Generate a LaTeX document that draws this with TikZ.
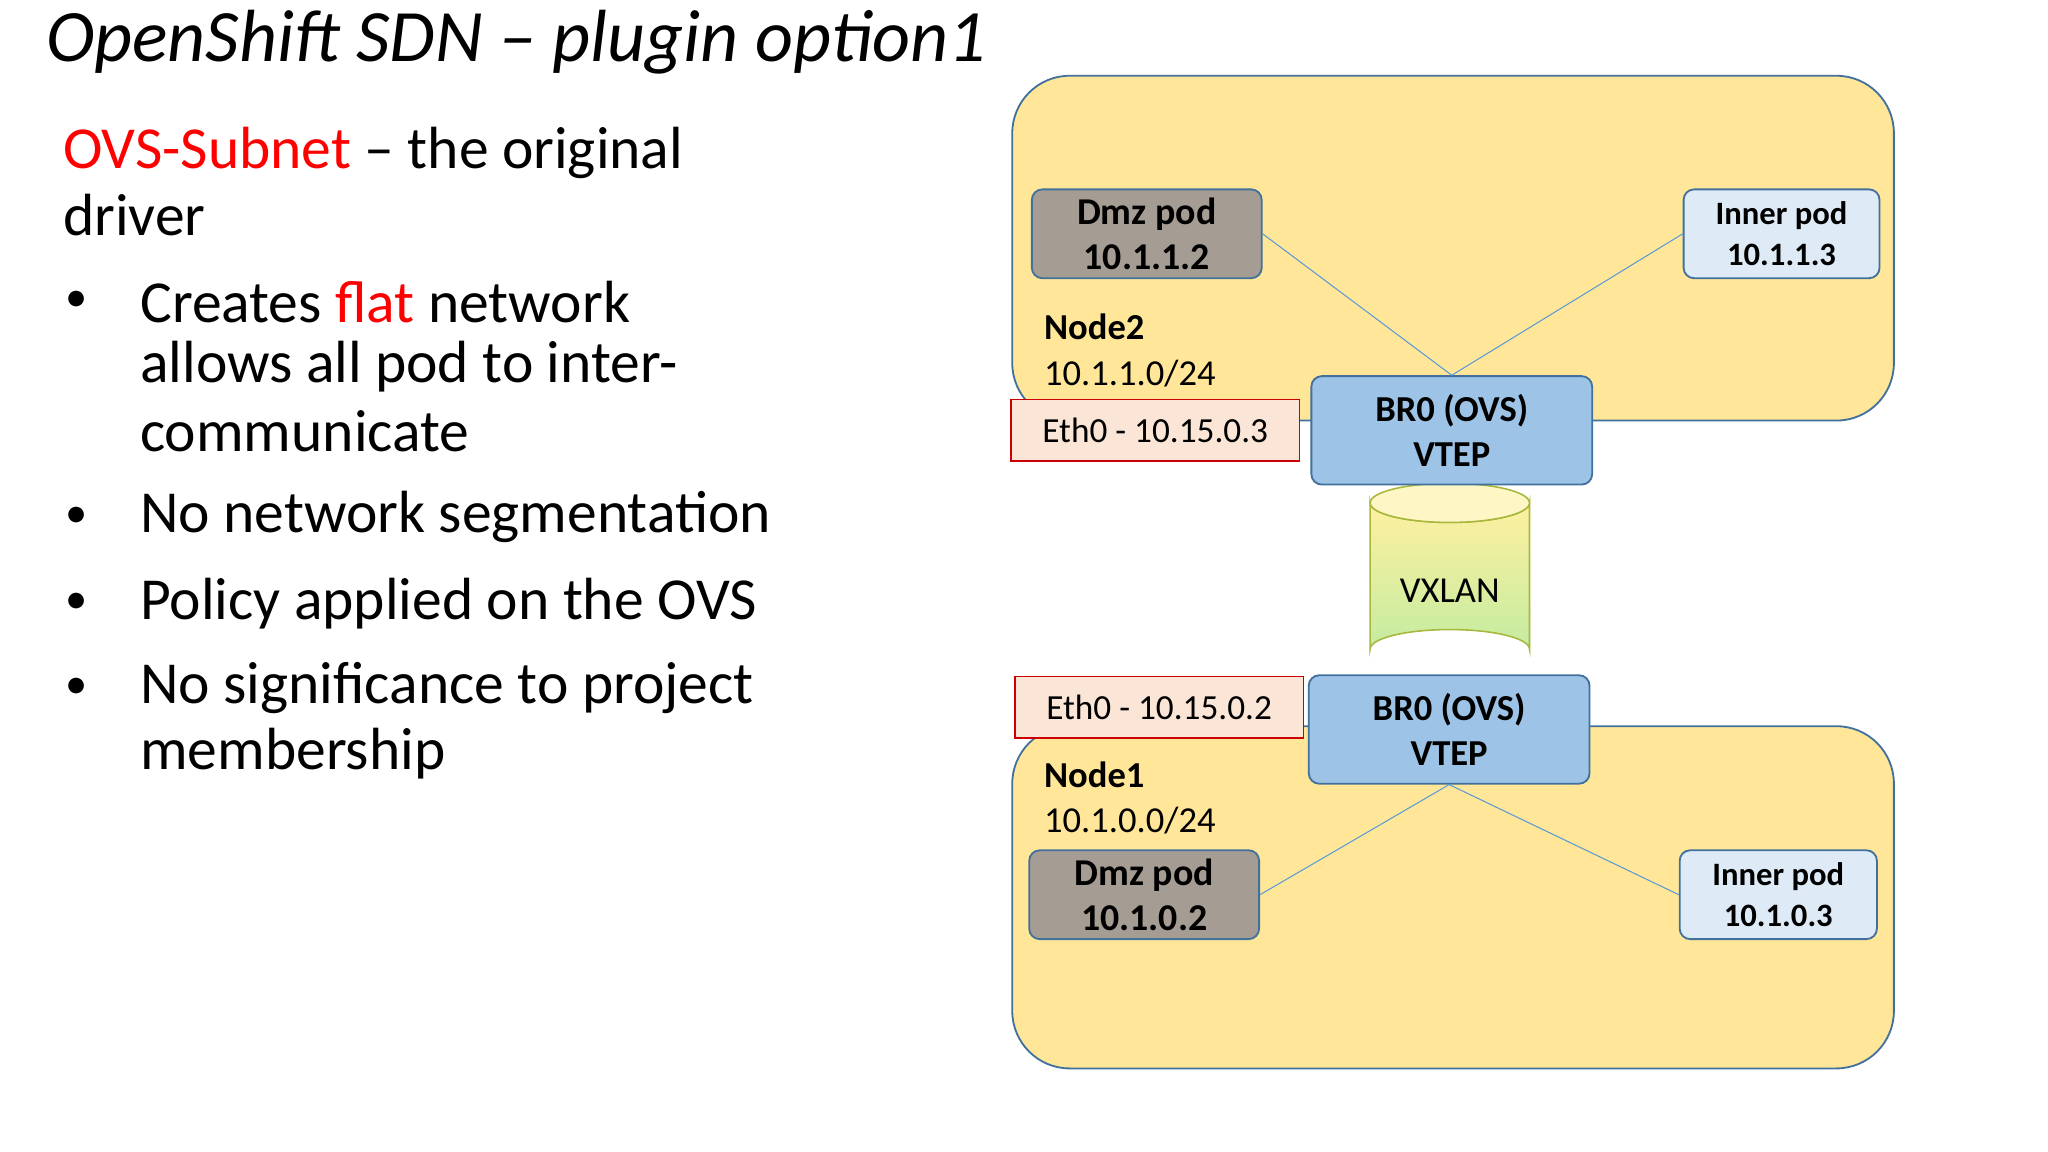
\documentclass[tikz,border=0pt]{standalone}
\usepackage{fontspec}
\setmainfont{Carlito}
\usetikzlibrary{shapes.geometric}
\definecolor{nodefill}{HTML}{FFE699}
\definecolor{bord}{HTML}{41719C}
\definecolor{dmz}{HTML}{A59C94}
\definecolor{inner}{HTML}{DEEBF7}
\definecolor{br}{HTML}{9DC3E6}
\definecolor{eth}{HTML}{FBE5D6}
\definecolor{link}{HTML}{5B9BD5}
\definecolor{cyltop}{HTML}{FFF0A0}
\definecolor{cylbot}{HTML}{C4ECA0}
\definecolor{cylbord}{HTML}{A8B83C}
\begin{document}
\begin{tikzpicture}[x=0.5pt,y=-0.5pt,
  host/.style={draw=bord,fill=nodefill,line width=0.7pt,rounded corners=22pt},
  pod/.style={draw=bord,line width=0.7pt,rounded corners=4pt,align=center,font=\bfseries,inner sep=0pt},
  dmzs/.style={pod,fill=dmz,font=\fontsize{14.5}{17.5}\selectfont\bfseries},
  inners/.style={pod,fill=inner,font=\fontsize{12.5}{15.5}\selectfont\bfseries},
  brs/.style={pod,fill=br,font=\fontsize{14}{17.5}\selectfont\bfseries},
  eths/.style={draw=red!80!black,fill=eth,line width=0.6pt,font=\fontsize{13.5}{16}\selectfont,inner sep=0pt},
  lnk/.style={draw=link,line width=0.4pt},
  body/.style={font=\fontsize{22.8}{26}\selectfont,anchor=west,inner sep=0pt}]
\useasboundingbox[fill=white] (0,0) rectangle (1568,882);
% title
\node[anchor=west,inner sep=0pt,font=\fontsize{28.3}{34}\selectfont\itshape] (title) at (35,32) {OpenShift SDN – plugin option1};
% left text
\node[body] (t1) at (48,117) {\textcolor{red}{OVS-Subnet} – the original};
\node[body] (t2) at (48,165) {driver};
\foreach \y/\n in {231/b1,396/b2,462/b3,527/b4}{\node[body,font=\fontsize{17}{20}\selectfont] (\n) at (50,\y) {•};}
\node[body] (l1) at (107,231) {Creates \textcolor{red}{flat} network};
\node[body] (l2) at (107,281) {allows all pod to inter-};
\node[body] (l3) at (107,330) {communicate};
\node[body] (l4) at (107,396) {No network segmentation};
\node[body] (l5) at (107,462) {Policy applied on the OVS};
\node[body] (l6) at (107,527) {No significance to project};
\node[body] (l7) at (107,577) {membership};
% hosts
\draw[host] (775,58) rectangle (1450,322);
\draw[host] (775,556) rectangle (1450,818);
% node2
\node[dmzs,minimum width=88pt,minimum height=34pt] (dmz2) at (878,179) {Dmz pod\\10.1.1.2};
\node[inners,minimum width=75pt,minimum height=34pt] (in2) at (1364,179) {Inner pod\\10.1.1.3};
\node[anchor=west,inner sep=0pt,font=\fontsize{14}{16}\selectfont\bfseries] (n2) at (799,250) {Node2};
\node[anchor=west,inner sep=0pt,font=\fontsize{14}{16}\selectfont] (n2a) at (799,286) {10.1.1.0/24};
\node[eths,minimum width=110.5pt,minimum height=23.5pt] (eth2) at (884.5,329.5) {Eth0 - 10.15.0.3};
% cylinder
\shade[top color=cyltop,bottom color=cylbot,draw=cylbord,line width=0.6pt]
  (1049,385) -- (1049,497) arc[start angle=180,end angle=360,x radius=61,y radius=15] -- (1171,385) arc[start angle=0,end angle=180,x radius=61,y radius=15] -- cycle;
\draw[fill=cyltop!60!white,draw=cylbord,line width=0.6pt] (1110,385) ellipse[x radius=61,y radius=15];
\node[font=\fontsize{14}{16}\selectfont] (vx) at (1110,452) {VXLAN};
\node[brs,minimum width=107.5pt,minimum height=41.5pt] (br2) at (1111.5,329.5) {BR0 (OVS)\\VTEP};
% node1
\node[eths,minimum width=110.5pt,minimum height=23.5pt] (eth1) at (887.5,541.5) {Eth0 - 10.15.0.2};
\node[brs,minimum width=107.5pt,minimum height=41.5pt] (br1) at (1109.5,558.5) {BR0 (OVS)\\VTEP};
\node[anchor=west,inner sep=0pt,font=\fontsize{14}{16}\selectfont\bfseries] (n1) at (799,593) {Node1};
\node[anchor=west,inner sep=0pt,font=\fontsize{14}{16}\selectfont] (n1a) at (799,628) {10.1.0.0/24};
\node[dmzs,minimum width=88pt,minimum height=34pt] (dmz1) at (876,685) {Dmz pod\\10.1.0.2};
\node[inners,minimum width=75.5pt,minimum height=34pt] (in1) at (1361.5,685) {Inner pod\\10.1.0.3};
% links
\draw[lnk] (dmz2.east) -- (br2.north);
\draw[lnk] (in2.west) -- (br2.north);
\draw[lnk] (br1.south) -- (dmz1.east);
\draw[lnk] (br1.south) -- (in1.west);
\end{tikzpicture}
\end{document}
